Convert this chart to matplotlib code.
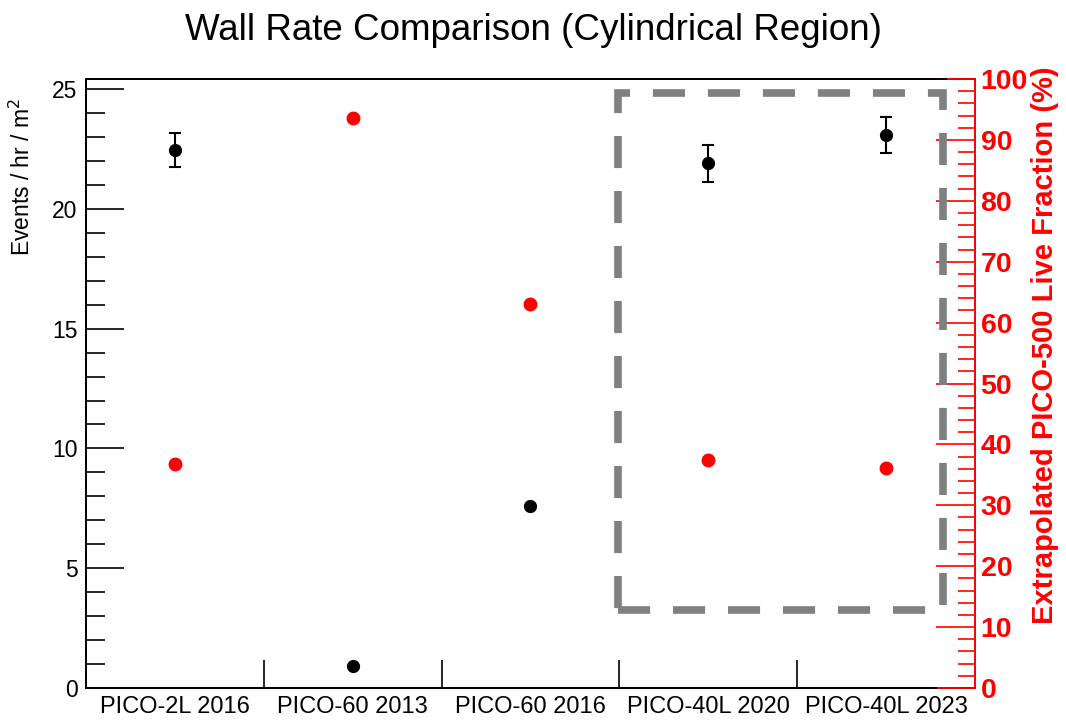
"""Wall rate comparison across PICO runs, with extrapolated live fraction."""
import matplotlib

matplotlib.use("Agg")
import matplotlib.pyplot as plt  # noqa: E402
from matplotlib.patches import Rectangle  # noqa: E402
from matplotlib.ticker import FixedLocator, MultipleLocator, NullFormatter  # noqa: E402

plt.rcParams["font.family"] = ["Liberation Sans", "DejaVu Sans"]

categories = ["PICO-2L 2016", "PICO-60 2013", "PICO-60 2016",
              "PICO-40L 2020", "PICO-40L 2023"]
wall_rate = [22.45, 0.92, 7.6, 21.9, 23.08]
wall_rate_err = [0.72, 0.0, 0.0, 0.76, 0.75]
live_fraction = [36.8, 93.6, 63.0, 37.4, 36.1]

# highlighted region (category units, right-axis %)
box_x = (2.49, 4.32)
box_y = (12.8, 97.7)

RED = "#ff0000"

fig = plt.figure(figsize=(10.66, 7.2), dpi=100)
ax = fig.add_axes([0.0807, 0.0444, 0.9146 - 0.0807, 0.8903 - 0.0444])
ax2 = ax.twinx()

x = list(range(len(categories)))
ax.errorbar(x, wall_rate, yerr=wall_rate_err, fmt="o", color="black",
            ms=8.5, elinewidth=1.5, capsize=4, capthick=1.5, zorder=3)
ax2.plot(x, live_fraction, "o", color=RED, ms=9, zorder=3)

ax2.add_patch(Rectangle((box_x[0], box_y[0]), box_x[1] - box_x[0],
                        box_y[1] - box_y[0], fill=False, edgecolor="#808080",
                        lw=5.5, linestyle=(0, (4.2, 3.0)), zorder=2))

ax.set_xlim(-0.5, len(categories) - 0.5)
ax.set_ylim(0, 25.42)
ax2.set_ylim(0, 100)

# category labels under the centres, ticks on the bin edges
ax.xaxis.set_major_locator(FixedLocator([i + 0.5 for i in range(len(categories) - 1)]))
ax.xaxis.set_major_formatter(NullFormatter())
ax.xaxis.set_minor_locator(FixedLocator(x))
ax.set_xticklabels(categories, minor=True)
ax.tick_params(axis="x", which="major", direction="in", length=20, width=1.2,
               color="black")
ax.tick_params(axis="x", which="minor", length=0, labelsize=17, pad=6)

ax.yaxis.set_major_locator(MultipleLocator(5))
ax.yaxis.set_minor_locator(MultipleLocator(1))
ax.tick_params(axis="y", which="major", direction="in", length=27, width=1.2,
               labelsize=16.5, pad=6)
ax.tick_params(axis="y", which="minor", direction="in", length=14, width=1.2)

ax2.yaxis.set_major_locator(MultipleLocator(10))
ax2.yaxis.set_minor_locator(MultipleLocator(2))
ax2.tick_params(axis="y", which="major", direction="in", length=28, width=1.2,
                color=RED, labelcolor=RED, labelsize=20.5, pad=4)
ax2.tick_params(axis="y", which="minor", direction="in", length=12, width=1.2,
                color=RED)
for lab in ax2.get_yticklabels():
    lab.set_fontweight("bold")

for a in (ax, ax2):
    for side in ("left", "top", "bottom"):
        a.spines[side].set_color("black")
        a.spines[side].set_linewidth(1.3)
    a.spines["right"].set_color(RED)
    a.spines["right"].set_linewidth(1.3)

# red ends of the frame where the right axis is drawn
ax2.plot([0.9696, 1.0], [1.0, 1.0], color=RED, lw=1.3,
         transform=ax2.transAxes, clip_on=False, zorder=4)
ax2.plot([0.958, 1.0], [0.0, 0.0], color=RED, lw=1.3,
         transform=ax2.transAxes, clip_on=False, zorder=4)

fig.text(22 / 1066, 1 - 177 / 720, "Events / hr / m$^2$", rotation=90,
         ha="center", va="center", fontsize=16.5)
fig.text(1045 / 1066, 1 - 345 / 720, "Extrapolated PICO-500 Live Fraction (%)",
         rotation=90, ha="center", va="center", fontsize=21, fontweight="bold",
         color=RED)
fig.text(0.5, 1 - 31 / 720, "Wall Rate Comparison (Cylindrical Region)",
         ha="center", va="center", fontsize=26.5)

fig.savefig("out.png", dpi=100, facecolor="white")
